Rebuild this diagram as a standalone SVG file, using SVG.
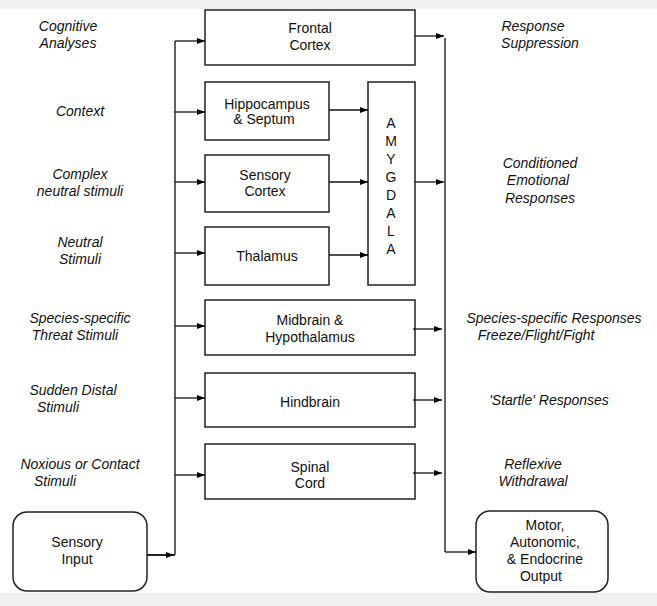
<svg xmlns="http://www.w3.org/2000/svg" width="657" height="606" viewBox="0 0 657 606">
<defs><marker id="a" markerWidth="8" markerHeight="6" refX="8" refY="3" orient="auto" markerUnits="userSpaceOnUse"><path d="M0,0L8,3L0,6z" fill="#000"/></marker></defs>
<style>
.b{fill:#fff;stroke:#222;stroke-width:1.5}
.t{font-family:"Liberation Sans",Arial,sans-serif;font-size:14px;text-anchor:middle;fill:#111}
.i{font-family:"Liberation Sans",Arial,sans-serif;font-size:14px;font-style:italic;text-anchor:middle;fill:#111}
.c{stroke:#111;stroke-width:1.3;fill:none}
</style>
<rect width="657" height="606" fill="#f0f0f0"/>
<rect x="0" y="9" width="657" height="584" fill="#fff"/>
<g id="labels-left">
<text class="i" x="68" y="31">Cognitive</text><text class="i" x="68" y="48">Analyses</text>
<text class="i" x="80" y="116">Context</text>
<text class="i" x="80" y="179">Complex</text><text class="i" x="80" y="196">neutral stimuli</text>
<text class="i" x="80" y="247">Neutral</text><text class="i" x="80" y="264">Stimuli</text>
<text class="i" x="80" y="323">Species-specific</text><text class="i" x="75" y="340">Threat Stimuli</text>
<text class="i" x="73" y="395">Sudden Distal</text><text class="i" x="58" y="412">Stimuli</text>
<text class="i" x="80" y="469">Noxious or Contact</text><text class="i" x="55" y="486">Stimuli</text>
</g>
<g id="labels-right">
<text class="i" x="533" y="31">Response</text><text class="i" x="540" y="48">Suppression</text>
<text class="i" x="540" y="168">Conditioned</text><text class="i" x="538" y="185">Emotional</text><text class="i" x="540" y="203">Responses</text>
<text class="i" x="554" y="323">Species-specific Responses</text><text class="i" x="536" y="340">Freeze/Flight/Fight</text>
<text class="i" x="549" y="405">'Startle' Responses</text>
<text class="i" x="533" y="469">Reflexive</text><text class="i" x="533" y="486">Withdrawal</text>
</g>
<g id="frontal"><rect class="b" x="205" y="10" width="210" height="55"/><text class="t" x="310" y="33">Frontal</text><text class="t" x="310" y="50">Cortex</text></g>
<g id="hippocampus"><rect class="b" x="205" y="82" width="124" height="58"/><text class="t" x="267" y="109">Hippocampus</text><text class="t" x="264" y="124">&amp; Septum</text></g>
<g id="sensory-cortex"><rect class="b" x="205" y="155" width="124" height="57"/><text class="t" x="265" y="180">Sensory</text><text class="t" x="265" y="196">Cortex</text></g>
<g id="thalamus"><rect class="b" x="205" y="227" width="124" height="58"/><text class="t" x="267" y="261">Thalamus</text></g>
<g id="amygdala"><rect class="b" x="368" y="82" width="47" height="203"/>
<text class="t" x="391" y="128">A</text><text class="t" x="391" y="146">M</text><text class="t" x="391" y="164">Y</text><text class="t" x="391" y="182">G</text><text class="t" x="391" y="200">D</text><text class="t" x="391" y="218">A</text><text class="t" x="391" y="236">L</text><text class="t" x="391" y="254">A</text></g>
<g id="midbrain"><rect class="b" x="205" y="300" width="210" height="55"/><text class="t" x="310" y="325">Midbrain &amp;</text><text class="t" x="310" y="342">Hypothalamus</text></g>
<g id="hindbrain"><rect class="b" x="205" y="373" width="210" height="54"/><text class="t" x="310" y="407">Hindbrain</text></g>
<g id="spinal"><rect class="b" x="205" y="444" width="210" height="55"/><text class="t" x="310" y="472">Spinal</text><text class="t" x="310" y="488">Cord</text></g>
<g id="sensory-input"><rect class="b" x="13" y="512" width="134" height="79" rx="14"/><text class="t" x="77" y="547">Sensory</text><text class="t" x="77" y="564">Input</text></g>
<g id="output"><rect class="b" x="476" y="511" width="132" height="81" rx="14"/><text class="t" x="545" y="530">Motor,</text><text class="t" x="545" y="547">Autonomic,</text><text class="t" x="545" y="564">&amp; Endocrine</text><text class="t" x="541" y="581">Output</text></g>
<g id="connectors">
<path class="c" d="M147,555H175M175,555V41"/>
<line class="c" x1="147" y1="555" x2="174" y2="555" marker-end="url(#a)"/>
<line class="c" x1="175" y1="41" x2="205" y2="41" marker-end="url(#a)"/>
<line class="c" x1="175" y1="112" x2="205" y2="112" marker-end="url(#a)"/>
<line class="c" x1="175" y1="182" x2="205" y2="182" marker-end="url(#a)"/>
<line class="c" x1="175" y1="253" x2="205" y2="253" marker-end="url(#a)"/>
<line class="c" x1="175" y1="326" x2="205" y2="326" marker-end="url(#a)"/>
<line class="c" x1="175" y1="398" x2="205" y2="398" marker-end="url(#a)"/>
<line class="c" x1="175" y1="475" x2="205" y2="475" marker-end="url(#a)"/>
<line class="c" x1="329" y1="110" x2="368" y2="110" marker-end="url(#a)"/>
<line class="c" x1="329" y1="182" x2="368" y2="182" marker-end="url(#a)"/>
<line class="c" x1="329" y1="255" x2="368" y2="255" marker-end="url(#a)"/>
<path class="c" d="M445,38V552"/>
<line class="c" x1="415" y1="36" x2="444" y2="36" marker-end="url(#a)"/>
<line class="c" x1="415" y1="182" x2="444" y2="182" marker-end="url(#a)"/>
<line class="c" x1="413" y1="329" x2="442" y2="329" marker-end="url(#a)"/>
<line class="c" x1="413" y1="400" x2="442" y2="400" marker-end="url(#a)"/>
<line class="c" x1="413" y1="473" x2="442" y2="473" marker-end="url(#a)"/>
<line class="c" x1="445" y1="552" x2="476" y2="552" marker-end="url(#a)"/>
</g>
</svg>
